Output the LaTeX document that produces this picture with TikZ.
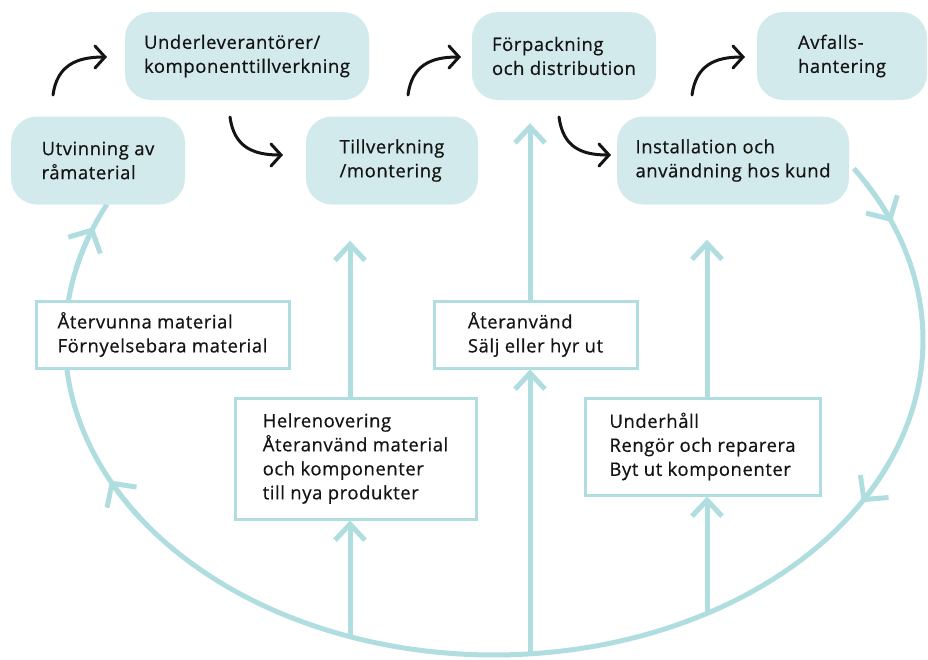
\documentclass[tikz,border=0pt]{standalone}
\usepackage{fontspec}
\setmainfont[LetterSpace=3,FakeBold=0.5]{Open Sans}
\usetikzlibrary{arrows.meta,calc}
\definecolor{phasefill}{RGB}{211,234,236}
\definecolor{loopteal}{RGB}{176,221,224}
\definecolor{ink}{RGB}{20,20,20}
\pgfdeclarelayer{bg}
\pgfsetlayers{bg,main}
\begin{document}
\begin{tikzpicture}[x=1pt,y=-1pt,
  txt/.style={font=\fontsize{18.5}{24}\selectfont, text=ink, align=left, inner sep=0pt},
  phase/.style={txt, fill=phasefill, rounded corners=26pt, minimum height=88pt},
  option/.style={txt, draw=loopteal, line width=3pt, fill=white},
  flow/.style={draw=ink, line width=3pt, line cap=round,
    -{Straight Barb[length=10pt, width=22pt, line cap=round]}},
  loop/.style={draw=loopteal, line width=5pt},
  looparrow/.style={loop, -{Straight Barb[length=17pt, width=36pt]}},
  uparrow/.style={loop, -{Straight Barb[length=16pt, width=30pt]}}
]
\useasboundingbox (0,0) rectangle (928,659);

% life-cycle phases
\node[phase, minimum width=174pt] (utv)  at (98,160.5)  {Utvinning av\\råmaterial};
\node[phase, minimum width=244pt] (sub)  at (247,56)    {Underleverantörer/\\komponenttillverkning};
\node[phase, minimum width=172pt] (till) at (392,160.5) {Tillverkning\\/montering};
\node[phase, minimum width=184pt] (forp) at (564,56)    {Förpackning\\och distribution};
\node[phase, minimum width=170pt] (avf)  at (842,56)    {Avfalls-\\hantering};
\node[phase, minimum width=232pt] (inst) at (733,160.5) {Installation och\\användning hos kund};

% circular strategies
\node[option, minimum width=253pt, minimum height=67pt]  (atv) at (162.5,334.5) {Återvunna material\\Förnyelsebara material};
\node[option, minimum width=241pt, minimum height=121pt] (hel) at (355.5,458.5) {Helrenovering\\Återanvänd material\\och komponenter\\till nya produkter};
\node[option, minimum width=203pt, minimum height=67pt]  (ate) at (535.5,334.5) {Återanvänd\\Sälj eller hyr ut};
\node[option, minimum width=235pt, minimum height=97pt]  (und) at (702.5,446.5) {Underhåll\\Rengör och reparera\\Byt ut komponenter};

% linear flow between phases
\coordinate (f1a) at (53,95);   \coordinate (f1b) at (107,57);
\coordinate (f2a) at (230,117); \coordinate (f2b) at (283,155);
\coordinate (f3a) at (408,95);  \coordinate (f3b) at (461,57);
\coordinate (f4a) at (559,117); \coordinate (f4b) at (611,155);
\coordinate (f5a) at (692,95);  \coordinate (f5b) at (745,57);
\draw[flow] (f1a) .. controls ($(f1a)+(4,-30)$) and ($(f1b)+(-30,0)$) .. (f1b);
\draw[flow] (f2a) .. controls ($(f2a)+(4,30)$)  and ($(f2b)+(-30,0)$) .. (f2b);
\draw[flow] (f3a) .. controls ($(f3a)+(4,-30)$) and ($(f3b)+(-30,0)$) .. (f3b);
\draw[flow] (f4a) .. controls ($(f4a)+(4,30)$)  and ($(f4b)+(-30,0)$) .. (f4b);
\draw[flow] (f5a) .. controls ($(f5a)+(4,-30)$) and ($(f5b)+(-30,0)$) .. (f5b);

% return loop and feedback arrows
\coordinate (b1) at (350,637);
\coordinate (b2) at (530,654);
\coordinate (b3) at (707,614);
\begin{pgfonlayer}{bg}
  \draw[loop] plot[domain=-33:205.6, samples=140, variable=\t]
    ({494+429*cos(\t)}, {340+315*sin(\t)});
  \foreach \a in {-22,31,153.5,201}
    \draw[looparrow] plot[domain=\a-8:\a, samples=8, variable=\t]
      ({494+429*cos(\t)}, {340+315*sin(\t)});
  \draw[uparrow] (b1) -- (hel.south -| b1);
  \draw[uparrow] (hel.north -| b1) -- ([yshift=-36pt]till.south -| b1);
  \draw[uparrow] (b2) -- (ate.south -| b2);
  \draw[uparrow] (ate.north -| b2) -- ([yshift=-23pt]forp.south -| b2);
  \draw[uparrow] (b3) -- (und.south -| b3);
  \draw[uparrow] (und.north -| b3) -- ([yshift=-35pt]inst.south -| b3);
\end{pgfonlayer}
\end{tikzpicture}
\end{document}
